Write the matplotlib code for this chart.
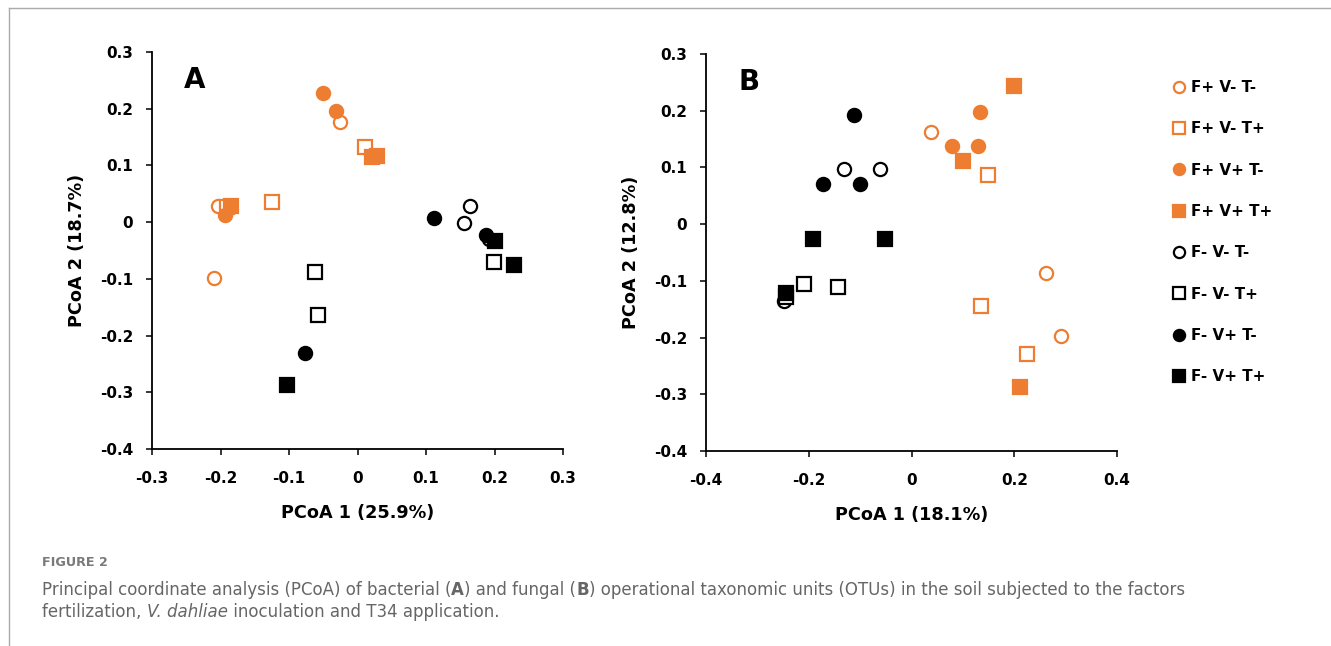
import matplotlib
matplotlib.use('Agg')
import matplotlib.pyplot as plt
from matplotlib.lines import Line2D
from matplotlib.ticker import FuncFormatter

# treatment groups (legend order)
groups = ['F+ V- T-', 'F+ V- T+', 'F+ V+ T-', 'F+ V+ T+',
          'F- V- T-', 'F- V- T+', 'F- V+ T-', 'F- V+ T+']

# panel A - bacterial OTUs
a_x = [[-0.209, -0.204, -0.026], [-0.125, 0.011, -0.190], [-0.051, -0.031, -0.193], [-0.185, 0.021, 0.028],
       [0.164, 0.155, 0.192], [-0.062, -0.057, 0.199], [0.111, 0.187, -0.076], [0.201, 0.228, -0.103]]
a_y = [[-0.098, 0.029, 0.176], [0.036, 0.133, 0.027], [0.228, 0.196, 0.012], [0.029, 0.114, 0.116],
       [0.029, -0.001, -0.030], [-0.088, -0.163, -0.071], [0.007, -0.022, -0.230], [-0.033, -0.076, -0.288]]

# panel B - fungal OTUs
b_x = [[0.038, 0.262, 0.291], [0.149, 0.136, 0.224], [0.133, 0.078, 0.130], [0.200, 0.100, 0.212],
       [-0.131, -0.062, -0.249], [-0.209, -0.143, -0.245], [-0.112, -0.172, -0.100], [-0.192, -0.051, -0.244]]
b_y = [[0.163, -0.086, -0.197], [0.086, -0.145, -0.229], [0.198, 0.137, 0.137], [0.244, 0.111, -0.287],
       [0.097, 0.097, -0.136], [-0.106, -0.111, -0.128], [0.192, 0.071, 0.071], [-0.026, -0.027, -0.122]]

a_xticks = [-0.3, -0.2, -0.1, 0, 0.1, 0.2, 0.3]
b_xticks = [-0.4, -0.2, 0, 0.2, 0.4]
yticks = [-0.4, -0.3, -0.2, -0.1, 0, 0.1, 0.2, 0.3]

ORANGE = '#ED7D31'
colors = [ORANGE] * 4 + ['black'] * 4
markers = ['o', 's', 'o', 's'] * 2
filled = [False, False, True, True] * 2

plt.rcParams['font.family'] = ['DejaVu Sans']

fig = plt.figure(figsize=(13.31, 6.46), dpi=100)
W, H = 1331, 646


def fmt(v, pos):
    return '0' if abs(v) < 1e-9 else ('%.1f' % v)


def panel(rect, xs, ys, xticks, xlim, letter, xlabel, ylabel):
    ax = fig.add_axes(rect)
    for i in range(len(groups)):
        fc = colors[i] if filled[i] else 'white'
        ax.plot(xs[i], ys[i], linestyle='none', marker=markers[i], ms=9.5,
                mfc=fc, mec=colors[i], mew=1.6, label=groups[i], clip_on=False)
    ax.set_xlim(*xlim)
    ax.set_ylim(-0.4, 0.3)
    ax.set_xticks(xticks)
    ax.set_yticks(yticks)
    ax.xaxis.set_major_formatter(FuncFormatter(fmt))
    ax.yaxis.set_major_formatter(FuncFormatter(fmt))
    for s in ['top', 'right']:
        ax.spines[s].set_visible(False)
    for s in ['left', 'bottom']:
        ax.spines[s].set_linewidth(1.3)
    ax.tick_params(direction='out', length=4.5, width=1.1, labelsize=11)
    ax.tick_params(axis='x', pad=11)
    ax.tick_params(axis='y', pad=9)
    for lab in ax.get_xticklabels() + ax.get_yticklabels():
        lab.set_fontweight('bold')
    ax.set_xlabel(xlabel, fontsize=12.7, fontweight='bold', labelpad=13)
    ax.set_ylabel(ylabel, fontsize=12.7, fontweight='bold', labelpad=10)
    ax.text(0.104, 0.93, letter, transform=ax.transAxes, fontsize=20,
            fontweight='bold', va='center', ha='center')
    return ax


axA = panel([152 / W, 1 - 449 / H, 411 / W, 397 / H], a_x, a_y, a_xticks, (-0.3, 0.3),
            'A', 'PCoA 1 (25.9%)', 'PCoA 2 (18.7%)')
axB = panel([706 / W, 1 - 451 / H, 411 / W, 397 / H], b_x, b_y, b_xticks, (-0.4, 0.4),
            'B', 'PCoA 1 (18.1%)', 'PCoA 2 (12.8%)')

handles, labels = axA.get_legend_handles_labels()
leg = fig.legend(handles, labels, loc='upper left', bbox_to_anchor=(1173 / W, 1 - 80 / H),
                 frameon=False, fontsize=10.9, labelspacing=1.74, handlelength=0.8,
                 handletextpad=0.4, markerscale=0.85, borderpad=0, borderaxespad=0)
for t in leg.get_texts():
    t.set_fontweight('bold')

# page frame lines
fig.add_artist(Line2D([9 / W, 1], [1 - 8 / H, 1 - 8 / H], color='#aaaaaa', lw=1.0))
fig.add_artist(Line2D([9 / W, 9 / W], [0, 1 - 8 / H], color='#aaaaaa', lw=1.0))

# caption
grey = '#666666'
fig.text(42 / W, 1 - 563 / H, 'FIGURE 2', fontsize=9.2, fontweight='bold',
         color='#7a7a7a', va='center')

renderer = fig.canvas.get_renderer()


def run(x, y, pieces):
    for txt, kw in pieces:
        t = fig.text(x / W, 1 - y / H, txt, fontsize=12, color=grey,
                     va='center', **kw)
        bb = t.get_window_extent(renderer=renderer)
        x = bb.x1


run(42, 590, [('Principal coordinate analysis (PCoA) of bacterial (', {}),
              ('A', {'fontweight': 'bold'}),
              (') and fungal (', {}),
              ('B', {'fontweight': 'bold'}),
              (') operational taxonomic units (OTUs) in the soil subjected to the factors', {})])
run(42, 612, [('fertilization, ', {}),
              ('V. dahliae', {'style': 'italic'}),
              (' inoculation and T34 application.', {})])

fig.savefig('out.png', dpi=100)
